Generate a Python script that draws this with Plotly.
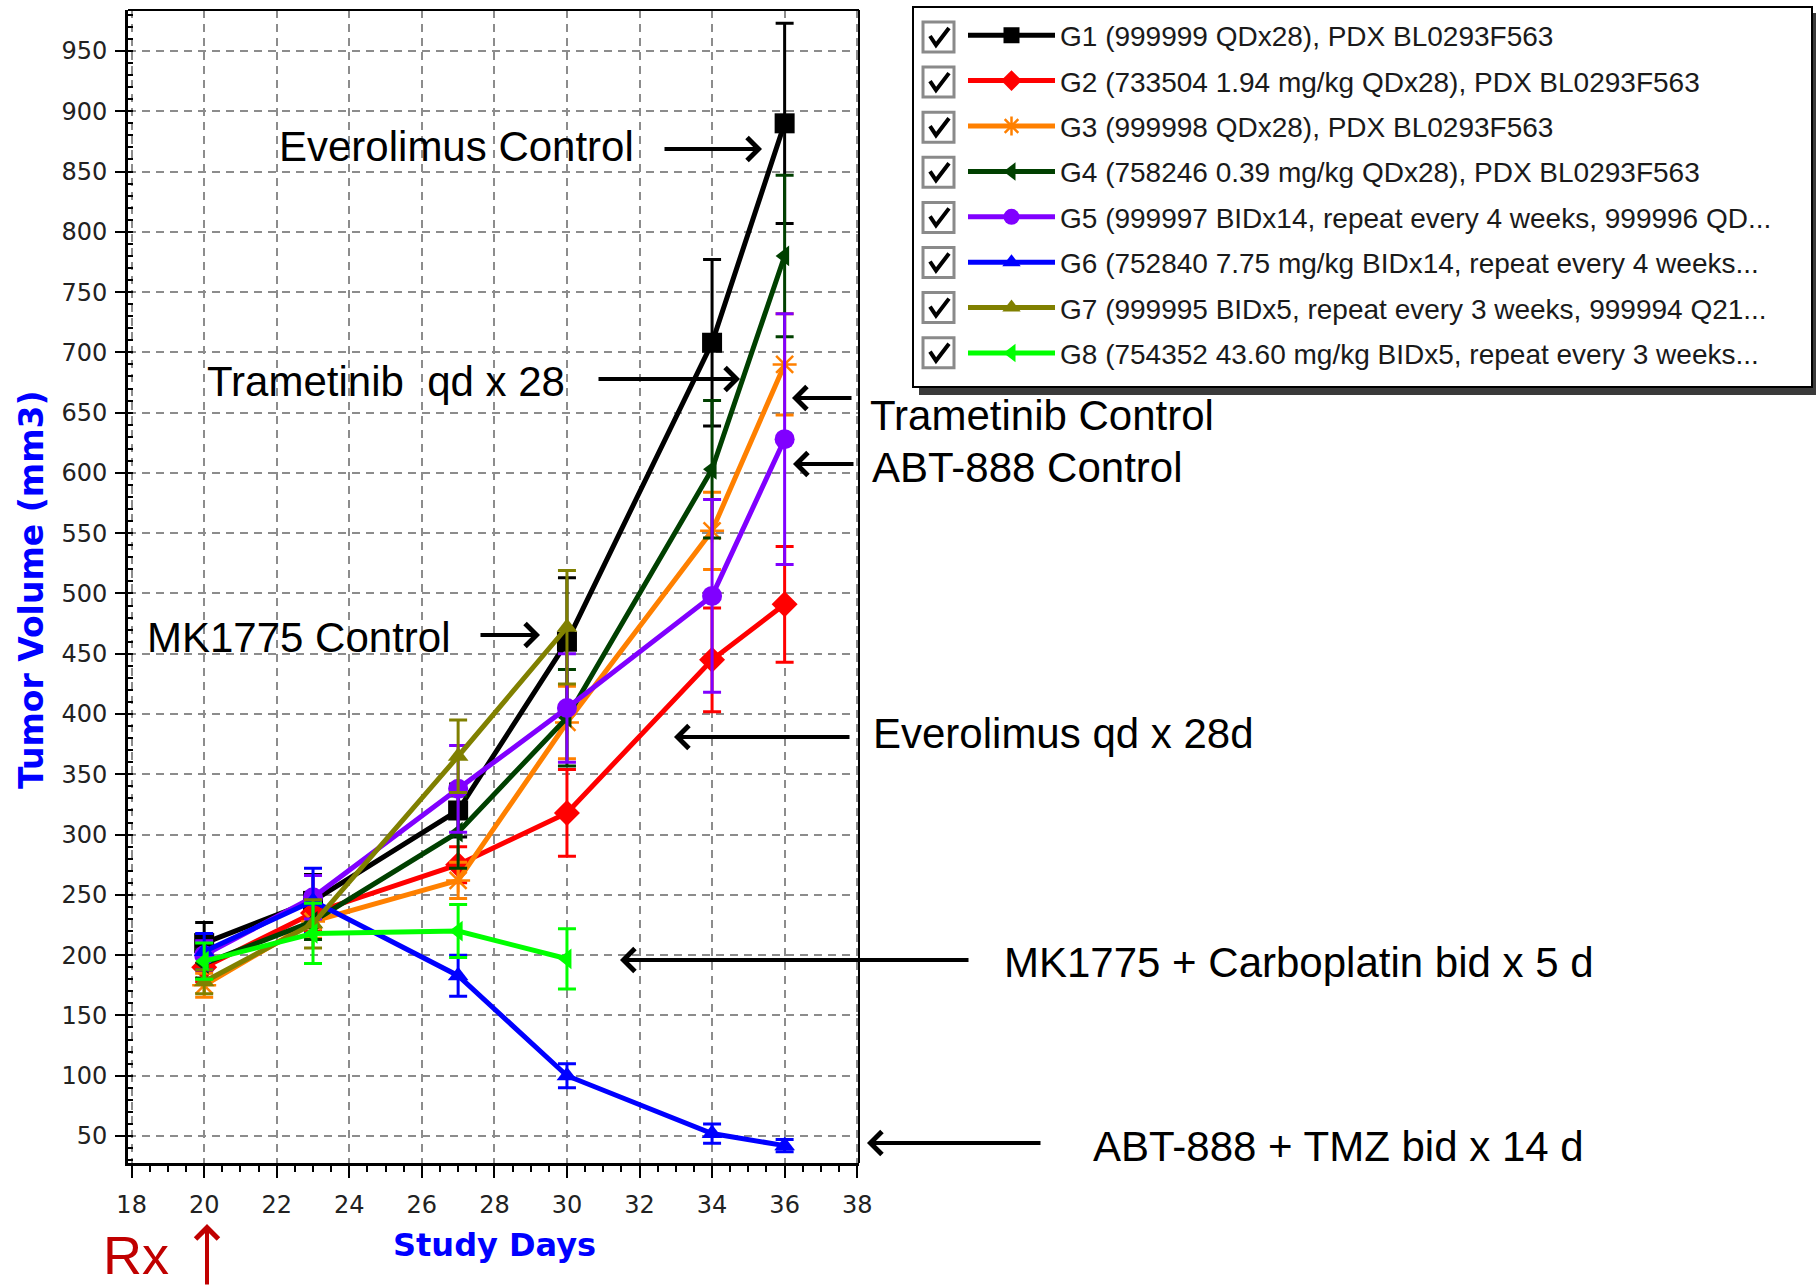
import plotly.graph_objects as go

# ---------------- data ----------------
days = [20, 23, 27, 30, 34, 36]
days_short = [20, 23, 27, 30]

g1_vol = [210, 245, 320, 460, 708, 890]
g1_err = [17, 22, 22, 53, 69, 83]
g2_vol = [190, 235, 275, 318, 445, 491]
g2_err = [12, 15, 15, 36, 43, 48]
g3_vol = [175, 228, 262, 393, 552, 690]
g3_err = [10, 14, 15, 30, 32, 42]
g4_vol = [193, 228, 302, 397, 603, 780]
g4_err = [12, 15, 30, 40, 57, 67]
g5_vol = [200, 248, 338, 405, 498, 628]
g5_err = [12, 18, 36, 45, 80, 104]
g6_vol = [203, 245, 183, 100, 52, 42]
g6_err = [15, 27, 17, 10, 8, 5]
g7_vol = [178, 226, 365, 472]
g7_err = [10, 20, 30, 47]
g8_vol = [195, 218, 220, 197]
g8_err = [15, 25, 22, 25]

names = [
    "G1 (999999 QDx28), PDX BL0293F563",
    "G2 (733504 1.94 mg/kg QDx28), PDX BL0293F563",
    "G3 (999998 QDx28), PDX BL0293F563",
    "G4 (758246 0.39 mg/kg QDx28), PDX BL0293F563",
    "G5 (999997 BIDx14, repeat every 4 weeks, 999996 QD...",
    "G6 (752840 7.75 mg/kg BIDx14, repeat every 4 weeks...",
    "G7 (999995 BIDx5, repeat every 3 weeks, 999994 Q21...",
    "G8 (754352 43.60 mg/kg BIDx5, repeat every 3 weeks...",
]

x_ticks = [18, 20, 22, 24, 26, 28, 30, 32, 34, 36, 38]
y_ticks = [50, 100, 150, 200, 250, 300, 350, 400, 450, 500, 550, 600, 650, 700, 750, 800, 850, 900, 950]

# ---------------- styles ----------------
series = [
    (days, g1_vol, g1_err, "#000000", "square", 20),
    (days, g2_vol, g2_err, "#ff0000", "diamond", 20),
    (days, g3_vol, g3_err, "#ff8000", "asterisk-open", 20),
    (days, g4_vol, g4_err, "#004000", "triangle-left", 18),
    (days, g5_vol, g5_err, "#8000ff", "circle", 20),
    (days, g6_vol, g6_err, "#0000ff", "triangle-up", 18),
    (days_short, g7_vol, g7_err, "#808000", "triangle-up", 18),
    (days_short, g8_vol, g8_err, "#00ff00", "triangle-left", 18),
]

W, H = 1816, 1286
L, R, T, B = 128, 859, 10, 1163


def px(xp):
    return (xp - L) / (R - L)


def py(yp):
    return (B - yp) / (B - T)


fig = go.Figure()
for i, (xs, ys, es, col, sym, sz) in enumerate(series):
    fig.add_trace(go.Scatter(
        x=xs, y=ys, name=names[i], legendgroup=f"g{i+1}",
        mode="lines+markers",
        line=dict(color=col, width=5),
        marker=dict(symbol=sym, size=sz, color=col,
                    line=dict(color=col, width=2.5 if sym == "asterisk-open" else 0)),
        error_y=dict(type="data", array=es, visible=True, color=col, thickness=3, width=9),
    ))

shapes = []
# legend shadow + box
shapes.append(dict(type="rect", xref="paper", yref="paper", layer="above",
                   x0=px(919), x1=px(1820), y0=py(395), y1=py(13),
                   fillcolor="#3a3a3a", line=dict(width=0)))
shapes.append(dict(type="rect", xref="paper", yref="paper", layer="above",
                   x0=px(913), x1=px(1812), y0=py(387), y1=py(7),
                   fillcolor="white", line=dict(color="black", width=2)))
# checkboxes
row_c = [37 + 45.1 * k for k in range(8)]
for cy in row_c:
    shapes.append(dict(type="rect", xref="paper", yref="paper", layer="above",
                       x0=px(923), x1=px(954), y0=py(cy + 15), y1=py(cy - 15),
                       fillcolor="white", line=dict(color="#8a8a8a", width=3)))
    path = f"M {px(930)},{py(cy - 1)} L {px(936)},{py(cy + 8)} L {px(949)},{py(cy - 9)}"
    shapes.append(dict(type="path", xref="paper", yref="paper", layer="above",
                       path=path, line=dict(color="black", width=4)))
# top/right plot border
shapes.append(dict(type="line", xref="paper", yref="paper", x0=0, x1=1, y0=1, y1=1,
                   line=dict(color="black", width=2)))
shapes.append(dict(type="line", xref="paper", yref="paper", x0=1, x1=1, y0=0, y1=1,
                   line=dict(color="black", width=2)))

LABEL_FONT = "Liberation Sans, Arial, sans-serif"
ann = []


def label(text, x0, yc, size=42, color="black"):
    ann.append(dict(text=text, xref="paper", yref="paper", x=px(x0), y=py(yc),
                    xanchor="left", yanchor="middle", showarrow=False,
                    font=dict(family=LABEL_FONT, size=size, color=color)))


def arrow(tipx, tipy, tailx, taily, color="black", width=4):
    ann.append(dict(text="", xref="paper", yref="paper", x=px(tipx), y=py(tipy),
                    ax=tailx - tipx, ay=taily - tipy, axref="pixel", ayref="pixel",
                    showarrow=True, arrowhead=4, arrowsize=1.1, arrowwidth=width,
                    arrowcolor=color, standoff=0, startstandoff=0))


label("Everolimus Control", 277, 147)
arrow(762, 149, 663, 149)
label("Trametinib \u00a0qd x 28", 205, 381)
arrow(740, 379, 597, 379)
label("Trametinib Control", 868, 416)
arrow(792, 398, 853, 398)
label("ABT-888 Control", 870, 467)
arrow(793, 464, 855, 464)
label("MK1775 Control", 145, 638)
arrow(540, 635, 479, 635)
label("Everolimus qd x 28d", 871, 733)
arrow(674, 737, 851, 737)
label("MK1775 + Carboplatin bid x 5 d", 1002, 962)
arrow(620, 960, 970, 960)
label("ABT-888 + TMZ bid x 14 d", 1091, 1146)
arrow(867, 1143, 1042, 1143)
label("Rx", 101, 1255, size=54, color="#c00000")
arrow(207, 1224, 207, 1292, color="#c00000", width=4)

# axis titles
ann.append(dict(text="<b>Tumor Volume (mm3)</b>", xref="paper", yref="paper",
                x=px(31), y=py(590), xanchor="center", yanchor="middle", textangle=-90,
                showarrow=False, font=dict(family="DejaVu Sans", size=33, color="#0000ff")))
ann.append(dict(text="<b>Study Days</b>", xref="paper", yref="paper",
                x=px(495), y=py(1245), xanchor="center", yanchor="middle",
                showarrow=False, font=dict(family="DejaVu Sans", size=32, color="#0000ff")))

grid = dict(showgrid=True, gridcolor="#8c8c8c", gridwidth=2, griddash="8px,6px")

fig.update_layout(
    width=W, height=H,
    margin=dict(l=L, r=W - R, t=T, b=H - B),
    paper_bgcolor="white", plot_bgcolor="white",
    showlegend=True,
    legend=dict(x=px(963), y=py(10.5), xanchor="left", yanchor="top",
                bgcolor="rgba(0,0,0,0)", borderwidth=0,
                font=dict(family="Liberation Sans, Arial, sans-serif", size=28, color="#1a1a1a"),
                tracegroupgap=6, itemwidth=87, itemsizing="trace"),
    xaxis=dict(range=[17.9, 38.05], tickvals=x_ticks, ticks="outside", ticklen=12,
               tickwidth=2, tickcolor="black", showline=True, linewidth=3, linecolor="black",
               zeroline=False, ticklabelstandoff=6,
               tickfont=dict(family="DejaVu Sans", size=24, color="#222"),
               minor=dict(dtick=0.5, tick0=18, ticks="outside", ticklen=6, tickwidth=2,
                          tickcolor="black", showgrid=False),
               **grid),
    yaxis=dict(range=[27.6, 984], tickvals=y_ticks, ticks="outside", ticklen=10,
               tickwidth=2, tickcolor="black", showline=True, linewidth=3, linecolor="black",
               zeroline=False, ticklabelstandoff=3,
               tickfont=dict(family="DejaVu Sans", size=24, color="#222"),
               minor=dict(dtick=10, tick0=0, ticks="inside", ticklen=5, tickwidth=2,
                          tickcolor="black", showgrid=False),
               **grid),
    shapes=shapes,
    annotations=ann,
)

fig.write_html("out.html")
